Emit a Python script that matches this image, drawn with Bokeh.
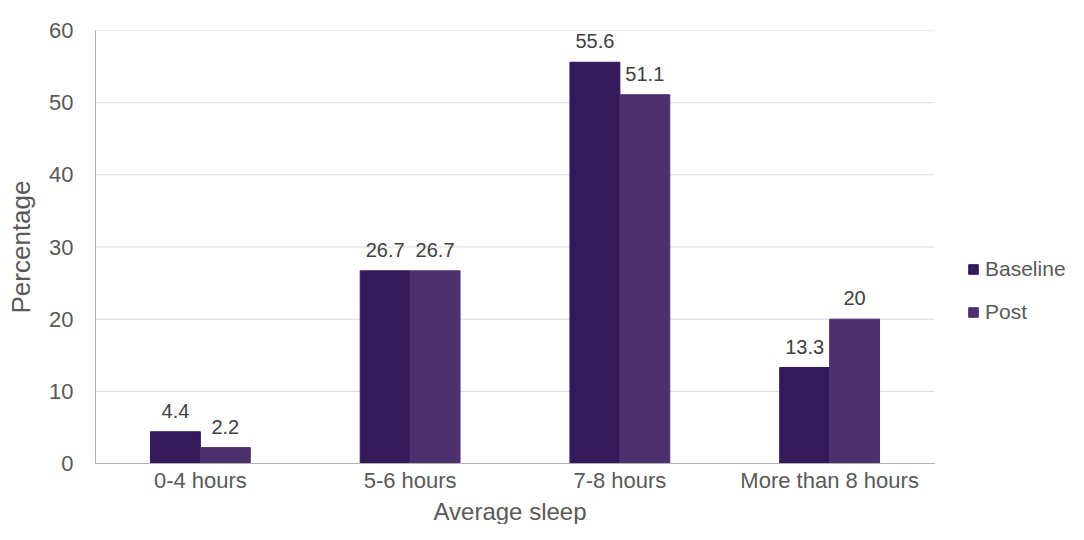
import numpy as np
from bokeh.plotting import figure
from bokeh.models import ColumnDataSource, Legend, LegendItem, Range1d, FixedTicker, Title
from bokeh.embed import file_html
from bokeh.resources import INLINE
from bokeh.core.properties import value

categories = ["0-4 hours", "5-6 hours", "7-8 hours", "More than 8 hours"]
baseline = [4.4, 26.7, 55.6, 13.3]
post = [2.2, 26.7, 51.1, 20.0]
baseline_labels = ["4.4", "26.7", "55.6", "13.3"]
post_labels = ["2.2", "26.7", "51.1", "20"]
series = ["Baseline", "Post"]
y_ticks = [0, 10, 20, 30, 40, 50, 60]

FONT = "Liberation Sans"
C_BASE = "#341a5a"
C_POST = "#4f306f"
TXT = "#595959"
GRID = "#d9d9d9"

# layout (pixels)
W, H = 1068, 524
LEFT, TOP, BOTTOM = 95, 30, 61
CAT_PX = 209.75              # width of one category slot
frame_w = W - LEFT
n = len(categories)
xpos = np.arange(n) + 0.5    # category centres in axis units
off, bw = 0.119, 0.238

src = ColumnDataSource(dict(xb=xpos - off, xp=xpos + off, baseline=baseline, post=post,
                            bl=baseline_labels, pl=post_labels))

p = figure(x_range=Range1d(0, frame_w / CAT_PX), y_range=Range1d(0, 60),
           width=W, height=H, output_backend="svg", toolbar_location=None,
           min_border_left=LEFT, min_border_right=0, min_border_top=TOP,
           min_border_bottom=BOTTOM)
p.outline_line_color = None
p.background_fill_color = "white"

# horizontal gridlines limited to the category area
p.segment(x0=0, x1=n, y0=y_ticks[1:], y1=y_ticks[1:], line_color=GRID, line_width=1)

r1 = p.vbar(x="xb", top="baseline", width=bw, source=src,
            fill_color=C_BASE, line_color=C_BASE)
r2 = p.vbar(x="xp", top="post", width=bw, source=src,
            fill_color=C_POST, line_color=C_POST)

p.text(x="xb", y="baseline", text="bl", source=src,
       text_align="center", text_baseline="bottom", y_offset=-14,
       text_font=value(FONT), text_font_size="20px", text_color="#404040")
p.text(x="xp", y="post", text="pl", source=src,
       text_align="center", text_baseline="bottom", y_offset=-14,
       text_font=value(FONT), text_font_size="20px", text_color="#404040")

# axes
p.yaxis.ticker = FixedTicker(ticks=y_ticks)
p.xaxis.ticker = FixedTicker(ticks=list(xpos))
p.xaxis.major_label_overrides = {float(x): c for x, c in zip(xpos, categories)}
p.xaxis.bounds = (0, n)
p.yaxis.axis_label = "Percentage"
for ax in (p.xaxis, p.yaxis):
    ax.axis_line_color = "#b0b0b0"
    ax.axis_line_width = 1
    ax.major_tick_line_color = None
    ax.minor_tick_line_color = None
    ax.major_label_text_font = FONT
    ax.major_label_text_font_size = "22px"
    ax.major_label_text_color = TXT
    ax.axis_label_text_font = FONT
    ax.axis_label_text_font_size = "26px"
    ax.axis_label_text_color = TXT
    ax.axis_label_text_font_style = "normal"
p.yaxis.major_label_standoff = 16
p.yaxis.axis_label_standoff = 10
p.xaxis.major_label_standoff = -2

p.xgrid.grid_line_color = None
p.ygrid.grid_line_color = None

# x-axis title, centred under the category area
xtitle = Title(text="Average sleep", align="left", offset=338, standoff=0,
               text_font=FONT, text_font_size="24px", text_font_style="normal",
               text_color=TXT)
p.add_layout(xtitle, "below")

legend = Legend(items=[LegendItem(label=series[0], renderers=[r1]),
                       LegendItem(label=series[1], renderers=[r2])],
                location=(872, 139), orientation="vertical",
                glyph_width=12, glyph_height=12, label_standoff=6, spacing=19,
                padding=0, margin=0, border_line_color=None,
                background_fill_alpha=0,
                label_text_font=FONT, label_text_font_size="21px",
                label_text_color=TXT)
p.add_layout(legend, "center")

open("out.html", "w").write(file_html(p, INLINE))
